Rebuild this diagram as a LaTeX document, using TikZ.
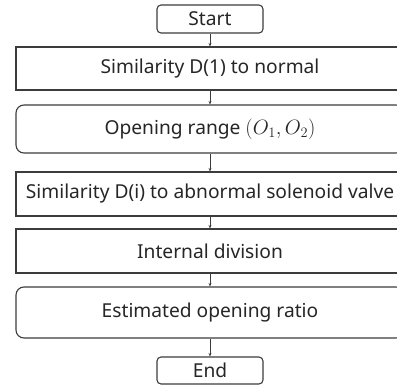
\documentclass[tikz,border=0pt]{standalone}
\usepackage{fontspec}
\setmainfont{Noto Sans}
\usetikzlibrary{arrows.meta}
\definecolor{linegray}{HTML}{3C3C3C}
\definecolor{textgray}{HTML}{262626}
\begin{document}
\begin{tikzpicture}[x=1pt,y=-1pt,
    font=\fontsize{19.2}{22}\selectfont,text=textgray,
    step box/.style={draw=linegray,line width=1.1pt,minimum width=388pt,inner sep=0pt},
    term box/.style={step box,minimum width=106pt,minimum height=28pt,rounded corners=4pt},
    flow/.style={draw=linegray,line width=0.7pt,-{Stealth[length=3.5pt,width=3pt]}}]
  \clip (0,0) rectangle (397,388);
  \node[term box] (start) at (210,19) {Start};
  \node[step box,minimum height=43pt] (sim1) at (210,68.5) {Similarity D(1) to normal};
  \node[step box,minimum height=48pt,rounded corners=8pt] (range) at (210,129) {Opening range $(O_1,O_2)$};
  \node[step box,minimum height=44pt] (simi) at (210,194) {Similarity D(i) to abnormal solenoid valve};
  \node[step box,minimum height=44pt] (div) at (210,251) {Internal division};
  \node[step box,minimum height=51pt,rounded corners=8pt] (ratio) at (210,312.5) {Estimated opening ratio};
  \node[term box,minimum height=27pt] (end) at (210,370.5) {End};
  % connectors
  \draw[flow] (start) -- (sim1);
  \draw[flow] (sim1) -- (range);
  \draw[flow] (range) -- (simi);
  \draw[flow] (simi) -- (div);
  \draw[flow] (div) -- (ratio);
  \draw[flow] (ratio) -- (end);
\end{tikzpicture}
\end{document}
